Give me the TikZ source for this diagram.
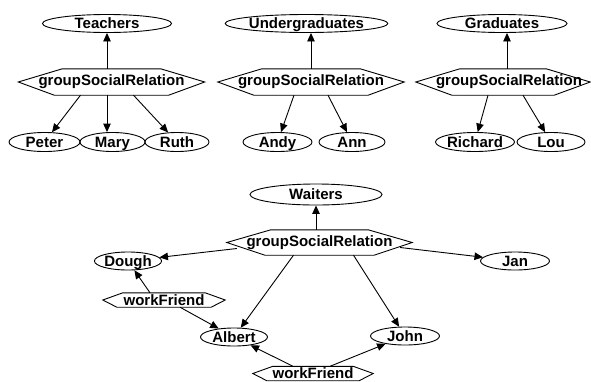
\documentclass[tikz,border=0pt]{standalone}
\usepackage{fontspec}
\setmainfont{Liberation Sans}
\usetikzlibrary{arrows.meta,shapes.geometric}
\tikzset{
  lbl/.style={font=\fontsize{15}{17}\selectfont\bfseries},
  ell/.style={lbl, ellipse, draw, line width=0.9pt, inner sep=0pt, minimum height=18pt, text height=11pt, text depth=1pt},
  hexbox/.style={lbl, rectangle, draw=none, inner sep=0pt, minimum width=186pt, minimum height=26pt},
  wbox/.style={lbl, rectangle, draw=none, inner sep=0pt, minimum width=122pt, minimum height=14pt},
  conn/.style={line width=0.9pt, -{Triangle[length=8.5pt,width=7.5pt]}},
  hexline/.style={line width=0.9pt, line join=miter}
}
% #1 name, #2 top inset, #3 bottom inset, #4 right trim
\newcommand\hexpoly[4]{%
  \draw[hexline] (#1.west) -- ([xshift={#2}]#1.north west) -- ([xshift={-#2-#4}]#1.north east)
    -- ([xshift={-#4}]#1.east) -- ([xshift={-#3-#4}]#1.south east) -- ([xshift={#3}]#1.south west) -- cycle;}
\begin{document}
\begin{tikzpicture}[x=1pt,y=-1pt]
\useasboundingbox (0,0) rectangle (591,381);
\begin{scope}
\clip (0,0) rectangle (591,381);
% group 1
\node[ell, minimum width=129pt] (Teachers) at (107,23.5) {Teachers};
\node[hexbox] (g1) at (111.5,82) {groupSocialRelation};
\hexpoly{g1}{44}{36}{0}
\node[ell, minimum width=71pt, minimum height=19pt] (Peter) at (44.5,142) {Peter};
\node[ell, minimum width=65pt, minimum height=19pt] (Mary) at (112.5,142) {Mary};
\node[ell, minimum width=64pt, minimum height=19pt] (Ruth) at (177,142) {Ruth};
\draw[conn] (Teachers.south |- g1.north) -- (Teachers.south);
\draw[conn] ([xshift=-31pt]g1.south) -- (Peter);
\draw[conn] ([xshift=-4.5pt]g1.south) -- ([xshift=-5.5pt]Mary.north);
\draw[conn] ([xshift=22pt]g1.south) -- (Ruth);
% group 2
\node[ell, minimum width=128pt] (Undergraduates) at (306.5,23.5) {Undergraduates};
\node[hexbox] (g2) at (311,82) {groupSocialRelation};
\hexpoly{g2}{44}{36}{0}
\node[ell, minimum width=69pt, minimum height=19pt] (Andy) at (277.5,142) {Andy};
\node[ell, minimum width=66pt, minimum height=19pt] (Ann) at (352,142) {Ann};
\draw[conn] (g2.north) -- (g2.north |- Undergraduates.south);
\draw[conn] ([xshift=-17pt]g2.south) -- (Andy);
\draw[conn] ([xshift=17pt]g2.south) -- (Ann);
% group 3
\node[ell, minimum width=130pt] (Graduates) at (502,23.5) {Graduates};
\node[hexbox] (g3) at (509,82) {groupSocialRelation};
\hexpoly{g3}{44}{36}{12}
\node[ell, minimum width=66pt, minimum height=19pt] (Richard) at (475,142) {Richard};
\node[ell, minimum width=68pt, minimum height=19pt] (Lou) at (551,142) {Lou};
\draw[conn] ([xshift=-2pt]g3.north) -- ([xshift=5pt]Graduates.south);
\draw[conn] ([xshift=-21pt]g3.south) -- (Richard);
\draw[conn] ([xshift=14pt]g3.south) -- (Lou);
% waiters
\node[ell, minimum width=132pt, minimum height=21pt] (Waiters) at (316,194.5) {Waiters};
\node[hexbox, minimum width=185pt, minimum height=25pt] (g4) at (319.5,242.5) {groupSocialRelation};
\hexpoly{g4}{44}{38}{0}
\node[ell, minimum width=61pt] (Dough) at (128,261) {Dough};
\node[ell, minimum width=69pt] (Jan) at (515,261) {Jan};
\node[ell, minimum width=67pt] (Albert) at (234,337) {Albert};
\node[ell, minimum width=69pt] (John) at (405,336) {John};
\node[wbox] (w1) at (164,300) {workFriend};
\hexpoly{w1}{20}{14}{0}
\node[wbox, minimum width=120pt] (w2) at (313,373.5) {workFriend};
\hexpoly{w2}{20}{14}{0}
\draw[conn] (Waiters.south |- g4.north) -- (Waiters.south);
\draw[conn] ([shift={(10pt,-6pt)}]g4.west) -- (Dough);
\draw[conn] ([shift={(-12pt,-5pt)}]g4.east) -- (Jan);
\draw[conn] ([xshift=-26pt]g4.south) -- (Albert);
\draw[conn] ([xshift=34pt]g4.south) -- (John);
\draw[conn] ([xshift=-14pt]w1.north) -- (Dough);
\draw[conn] ([xshift=16pt]w1.south) -- (Albert);
\draw[conn] ([xshift=-20pt]w2.north) -- (Albert);
\draw[conn] ([xshift=17pt]w2.north) -- (John);
\end{scope}
\end{tikzpicture}
\end{document}
